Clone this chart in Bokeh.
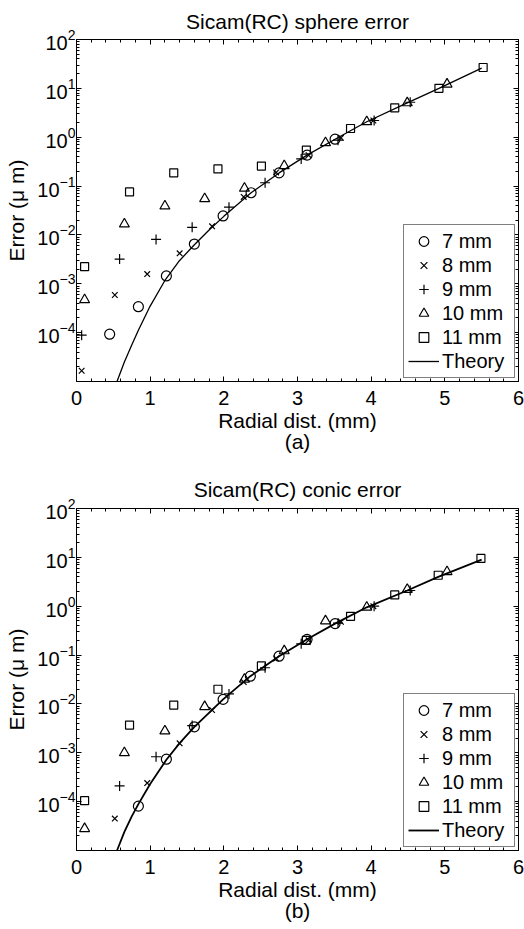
from bokeh.plotting import figure
from bokeh.layouts import column
from bokeh.models import (Range1d, FixedTicker, LinearAxis, LogAxis,
                          Legend, LegendItem, LogTickFormatter)
from bokeh.embed import file_html
from bokeh.resources import INLINE

FONT = "Liberation Sans"

# ---------------- data ----------------
# (a) Sicam(RC) sphere error
x7_a = [0.45, 0.84, 1.22, 1.60, 1.99, 2.37, 2.75, 3.13, 3.51]
y7_a = [9.3e-5, 3.4e-4, 1.45e-3, 6.5e-3, 0.0245, 0.073, 0.186, 0.43, 0.91]
x8_a = [0.07, 0.52, 0.96, 1.40, 1.84, 2.27, 2.71, 3.15, 3.59, 4.03]
y8_a = [1.66e-5, 5.9e-4, 1.58e-3, 4.2e-3, 0.015, 0.060, 0.19, 0.43, 0.97, 2.2]
x9_a = [0.07, 0.585, 1.08, 1.57, 2.07, 2.56, 3.05, 3.55, 4.04, 4.53]
y9_a = [8.9e-5, 3.2e-3, 8.1e-3, 0.0143, 0.037, 0.117, 0.36, 0.87, 2.2, 5.2]
x10_a = [0.11, 0.65, 1.20, 1.74, 2.28, 2.82, 3.38, 3.94, 4.49, 5.03]
y10_a = [4.7e-4, 0.0167, 0.039, 0.055, 0.090, 0.26, 0.77, 2.07, 5.05, 12.2]
x11_a = [0.11, 0.72, 1.32, 1.92, 2.51, 3.12, 3.72, 4.32, 4.92, 5.52]
y11_a = [2.24e-3, 0.076, 0.187, 0.224, 0.257, 0.545, 1.51, 4.0, 10.0, 26.7]
xth_a = [0.55, 0.65, 0.75, 0.84, 1.0, 1.2, 1.4, 1.6, 1.8, 2.0, 2.37, 2.75, 3.13,
         3.51, 3.94, 4.49, 4.92, 5.5]
yth_a = [1.0e-5, 2.5e-5, 5.6e-5, 1.12e-4, 3.5e-4, 1.17e-3, 3.0e-3, 6.3e-3, 0.0126,
         0.024, 0.073, 0.186, 0.43, 0.91, 2.07, 5.05, 10.0, 26.0]

# (b) Sicam(RC) conic error
x7_b = [0.84, 1.22, 1.60, 1.99, 2.36, 2.75, 3.13, 3.51]
y7_b = [8.1e-5, 7.4e-4, 3.4e-3, 0.0124, 0.037, 0.095, 0.21, 0.44]
x8_b = [0.52, 0.96, 1.40, 1.84, 2.27, 2.71, 3.15, 3.59, 4.03]
y8_b = [4.5e-5, 2.4e-4, 1.56e-3, 7.5e-3, 0.028, 0.085, 0.2, 0.48, 1.0]
x9_b = [0.585, 1.08, 1.57, 2.07, 2.56, 3.05, 3.55, 4.04, 4.53]
y9_b = [2.1e-4, 8.3e-4, 3.6e-3, 0.016, 0.055, 0.17, 0.45, 1.0, 2.1]
x10_b = [0.11, 0.65, 1.20, 1.74, 2.28, 2.82, 3.38, 3.94, 4.49, 5.03]
y10_b = [2.8e-5, 1.0e-3, 2.8e-3, 8.8e-3, 0.032, 0.122, 0.50, 0.95, 2.2, 5.06]
x11_b = [0.11, 0.72, 1.32, 1.92, 2.51, 3.12, 3.72, 4.32, 4.91, 5.49]
y11_b = [1.05e-4, 3.7e-3, 9.5e-3, 0.020, 0.060, 0.2, 0.62, 1.7, 4.3, 9.5]
xth_b = [0.55, 0.65, 0.75, 0.84, 1.0, 1.22, 1.4, 1.6, 1.99, 2.36, 2.75, 3.13, 3.51,
         3.94, 4.49, 4.91, 5.5]
yth_b = [1.0e-5, 2.4e-5, 5.0e-5, 8.9e-5, 2.3e-4, 7.2e-4, 1.58e-3, 3.4e-3, 0.0124,
         0.037, 0.095, 0.21, 0.44, 0.95, 2.1, 4.0, 9.0]

series_labels = ["7 mm", "8 mm", "9 mm", "10 mm", "11 mm"]
series_markers = ["circle", "x", "cross", "triangle", "square"]
series_sizes = [10, 8, 10, 10, 8]

x_ticks = [0, 1, 2, 3, 4, 5, 6]
x_minor = [i * 0.2 for i in range(31)]
y_exponents = [-5, -4, -3, -2, -1, 0, 1, 2]


def make_panel(title, tag, xs, ys, xth, yth, height, top, bottom, theory_width,
               title_standoff):
    p = figure(width=524, height=height, x_range=Range1d(0, 6),
               y_range=Range1d(1.001e-5, 1e2), y_axis_type="log",
               output_backend="svg", toolbar_location=None,
               min_border_left=76, min_border_right=6,
               min_border_top=top, min_border_bottom=bottom)
    p.background_fill_color = "white"
    p.border_fill_color = "white"
    p.outline_line_color = "black"
    p.outline_line_width = 1
    p.xgrid.grid_line_color = None
    p.ygrid.grid_line_color = None

    p.title.text = title
    p.title.text_font = FONT
    p.title.text_font_size = "21px"
    p.title.text_font_style = "normal"
    p.title.text_color = "black"
    p.title.align = "center"
    p.title.standoff = title_standoff

    xt = FixedTicker(ticks=x_ticks, minor_ticks=x_minor)
    yt = FixedTicker(ticks=[10.0 ** e for e in y_exponents],
                     minor_ticks=[k * 10.0 ** e for e in y_exponents[:-1] for k in range(2, 10)])

    def style(ax, labels):
        ax.axis_line_color = "black"
        ax.axis_line_width = 1
        ax.major_tick_in = 5
        ax.major_tick_out = 0
        ax.minor_tick_in = 3
        ax.minor_tick_out = 0
        ax.major_tick_line_color = "black"
        ax.minor_tick_line_color = "black"
        if not labels:
            ax.major_label_text_font_size = "1px"
            ax.major_label_text_alpha = 0
            ax.major_label_standoff = 0

    xa = p.xaxis[0]
    xa.ticker = xt
    style(xa, True)
    xa.major_label_text_font = FONT
    xa.major_label_text_font_size = "20px"
    xa.major_label_text_color = "black"
    xa.major_label_standoff = 9
    xa.axis_label = "Radial dist. (mm)\n" + tag
    xa.axis_label_text_font = FONT
    xa.axis_label_text_font_size = "21px"
    xa.axis_label_text_font_style = "normal"
    xa.axis_label_text_color = "black"
    xa.axis_label_text_line_height = 0.92
    xa.axis_label_standoff = 1

    ya = p.yaxis[0]
    ya.ticker = yt
    ya.formatter = LogTickFormatter()
    style(ya, True)
    ya.major_label_text_font = FONT
    ya.major_label_text_font_size = "20px"
    ya.major_label_text_color = "black"
    ya.major_label_standoff = 1
    ya.axis_label = "Error (\u03bc m)"
    ya.axis_label_text_font = FONT
    ya.axis_label_text_font_size = "21px"
    ya.axis_label_text_font_style = "normal"
    ya.axis_label_text_color = "black"
    ya.axis_label_standoff = 6

    top_ax = LinearAxis(ticker=xt)
    style(top_ax, False)
    p.add_layout(top_ax, "above")
    right_ax = LogAxis(ticker=yt)
    style(right_ax, False)
    p.add_layout(right_ax, "right")

    # data
    items = []
    for x, y, lab, mk, sz in zip(xs, ys, series_labels, series_markers, series_sizes):
        r = p.scatter(x, y, marker=mk, size=sz, fill_color=None,
                      line_color="black", line_width=1.2)
        items.append(LegendItem(label=lab, renderers=[r]))
    rl = p.line(xth, yth, line_color="black", line_width=theory_width)
    items.append(LegendItem(label="Theory", renderers=[rl]))

    leg = Legend(items=items, location="bottom_right", margin=3,
                 border_line_color="black", border_line_width=1,
                 background_fill_color="white", background_fill_alpha=1,
                 label_text_font=FONT, label_text_font_size="20px",
                 label_text_color="black",
                 glyph_width=31, glyph_height=24, label_height=24,
                 label_standoff=3, label_width=68, spacing=0, padding=4)
    p.add_layout(leg)
    return p


p1 = make_panel("Sicam(RC) sphere error", "(a)",
                [x7_a, x8_a, x9_a, x10_a, x11_a], [y7_a, y8_a, y9_a, y10_a, y11_a],
                xth_a, yth_a, height=468, top=39, bottom=87, theory_width=1.3,
                title_standoff=13)
p2 = make_panel("Sicam(RC) conic error", "(b)",
                [x7_b, x8_b, x9_b, x10_b, x11_b], [y7_b, y8_b, y9_b, y10_b, y11_b],
                xth_b, yth_b, height=461, top=40, bottom=79, theory_width=1.8,
                title_standoff=15)

layout = column(p1, p2, spacing=0)
open("out.html", "w").write(file_html(layout, INLINE))
